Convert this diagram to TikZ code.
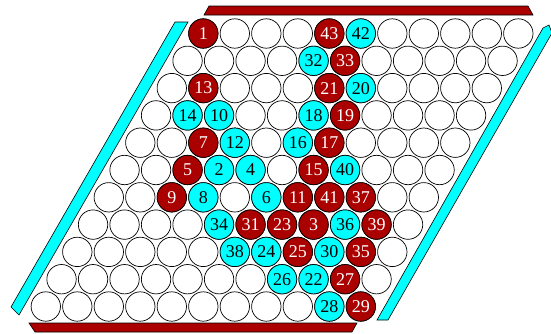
\documentclass[tikz,border=0pt]{standalone}
\usepackage{fontspec}
\setmainfont{Liberation Serif}
\definecolor{hexred}{RGB}{170,0,0}
\definecolor{hexcyan}{RGB}{0,255,255}
\begin{document}
\begin{tikzpicture}[x=1pt,y=-1pt,
  cell/.style={circle,draw=black,line width=0.7pt,fill=white,minimum size=29.4pt,inner sep=0pt},
  redst/.style={cell,fill=hexred,text=white,font=\fontsize{18}{18}\selectfont},
  cyanst/.style={cell,fill=hexcyan,text=black,font=\fontsize{18}{18}\selectfont},
  barred/.style={fill=hexred,draw=black,line width=0.6pt},
  barcyan/.style={fill=hexcyan,draw=black,line width=0.6pt}]
\useasboundingbox (0,0) rectangle (551,333);
% edges
\draw[barred] (209,6) -- (528,6) -- (533,15) -- (204,15) -- cycle;
\draw[barred] (29,323) -- (357,323) -- (352,332) -- (35,332) -- cycle;
\draw[barcyan] (175,22) -- (188,22) -- (19,315) -- (11,307) -- cycle;
\draw[barcyan] (377,320) -- (388,320) -- (552,33) -- (549,25) -- (543,28) -- cycle;
% cells
\foreach \r in {0,...,10}{
  \foreach \c in {0,...,10}{
    \node[cell] (c\r-\c) at ({203.3+31.5*\c-15.75*\r},{33.5+27.3*\r}) {};
  }
}
% red stones
\foreach \r/\c/\n in {0/0/1,0/4/43,1/5/33,2/1/13,2/5/21,3/6/19,4/2/7,4/6/17,5/2/5,5/6/15,6/2/9,6/6/11,6/7/41,6/8/37,7/5/31,7/6/23,7/7/3,7/9/39,8/7/25,8/9/35,9/9/27,10/10/29}{
  \node[redst] (s\n) at (c\r-\c) {\n};
}
% cyan stones
\foreach \r/\c/\n in {0/5/42,1/4/32,2/6/20,3/1/14,3/2/10,3/5/18,4/3/12,4/5/16,5/3/2,5/4/4,5/7/40,6/3/8,6/5/6,7/4/34,7/8/36,8/5/38,8/6/24,8/8/30,9/7/26,9/8/22,10/9/28}{
  \node[cyanst] (s\n) at (c\r-\c) {\n};
}
\end{tikzpicture}
\end{document}
